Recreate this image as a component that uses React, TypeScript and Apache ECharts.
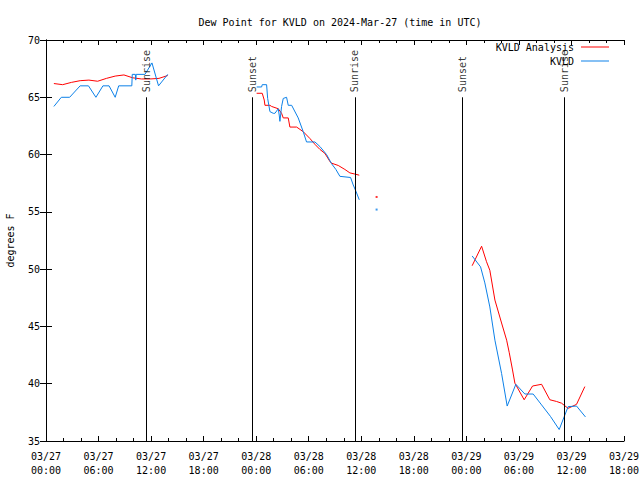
import { useEffect, useRef } from "react";
import * as echarts from "echarts";

// hours since 03/27 00:00 UTC
const xTickLabels = [
  "03/27\n00:00", "03/27\n06:00", "03/27\n12:00", "03/27\n18:00",
  "03/28\n00:00", "03/28\n06:00", "03/28\n12:00", "03/28\n18:00",
  "03/29\n00:00", "03/29\n06:00", "03/29\n12:00", "03/29\n18:00",
];

// KVLD Analysis (red); null = gap
const analysisTimes = [
  0.9, 1.9, 2.9, 3.9, 4.9, 5.9, 6.9, 7.9, 8.9, 9.9, 10.9, 11.9, 12.9, 13.9,
  18,
  24.05, 24.69, 24.92, 25.0, 25.57, 25.76, 26.52, 26.9, 27.09, 27.66, 27.85, 28.62,
  29.37, 30.14, 30.7, 31.28, 31.85, 32.42, 32.6, 33.37, 34.13, 34.7, 35.27, 35.77,
  42,
  48.66, 49.74, 50.3, 50.68, 51.26, 52.02, 52.6, 52.9, 53.27, 53.54, 54.6, 55.56,
  56.59, 57.53, 58.3, 58.87, 59.62, 60.58, 61.53,
];
const analysisValues = [
  66.2, 66.1, 66.3, 66.45, 66.5, 66.4, 66.65, 66.85, 66.95, 66.7, 66.6, 66.6, 66.65, 66.9,
  null,
  65.35, 65.35, 64.76, 64.3, 64.3, 64.2, 64.0, 63.6, 63.2, 63.2, 62.4, 62.4,
  62.0, 61.4, 60.9, 60.45, 60.1, 59.4, 59.25, 59.05, 58.7, 58.4, 58.3, 58.2,
  null,
  50.3, 52.0, 50.65, 49.9, 47.3, 45.3, 43.8, 42.7, 41.2, 40.05, 38.6, 39.8,
  39.95, 38.6, 38.45, 38.3, 37.85, 38.2, 39.75,
];

// KVLD observations (blue)
const obsTimes = [
  0.9, 1.75, 2.7, 3.9, 4.85, 5.7, 6.5, 7.2, 7.9, 8.3, 9.8, 9.85, 10.2, 10.25, 10.3,
  11.3, 12.1, 12.85, 13.9,
  18,
  24.05, 24.62, 24.69, 25.19, 25.31, 25.57, 25.95, 26.14, 26.52, 26.63, 26.71, 26.9,
  27.09, 27.47, 27.66, 28.05, 28.8, 29.37, 29.75, 30.71, 31.28, 32.04, 32.61, 33.1,
  33.56, 34.78, 35.08, 35.39, 35.77,
  42,
  48.66, 49.62, 50.11, 50.68, 51.26, 52.02, 52.66, 53.65, 54.68, 55.63, 56.59, 57.6,
  58.6, 59.62, 60.58, 61.6,
];
const obsValues = [
  64.2, 65.0, 65.0, 66.0, 66.0, 65.0, 66.0, 66.0, 65.0, 66.0, 66.0, 67.0, 67.0, 66.5, 67.0,
  67.0, 68.0, 66.0, 67.0,
  null,
  65.9, 65.9, 66.1, 66.1, 64.9, 63.75, 63.6, 63.6, 64.0, 63.45, 62.9, 64.2,
  64.9, 65.0, 64.3, 64.3, 63.2, 62.0, 61.1, 61.1, 60.7, 60.0, 59.2, 58.7,
  58.1, 58.0, 57.35, 56.8, 56.05,
  null,
  51.15, 50.2, 48.8, 46.7, 43.8, 40.9, 38.05, 39.95, 39.1, 39.1, 38.15, 37.15,
  36.0, 38.0, 38.05, 37.1,
];

// isolated single readings
const isoTime = 37.75;
const isoAnalysis = 56.3;
const isoObs = 55.2;

// sun events
const sunTimes = [11.42, 23.57, 35.27, 47.51, 59.16];
const sunNames = ["Sunrise", "Sunset", "Sunrise", "Sunset", "Sunrise"];

const RED = "#ff0000";
const BLUE = "#0c80e8";
const FONT = "DejaVu Sans Mono";

export default function App() {
  const ref = useRef<HTMLDivElement>(null);
  useEffect(() => {
    if (!ref.current) return;
    const chart = echarts.init(ref.current, undefined, { renderer: "svg" });
    const pairs = (t: number[], v: (number | null)[]) => t.map((x, i) => [x, v[i] === null ? "-" : v[i]]);
    const txt = { fontFamily: FONT, fontSize: 10, color: "#000" };
    const axisLine = { show: true, lineStyle: { color: "#000", width: 1 } };
    const xBase = {
      type: "value" as const,
      min: 0,
      max: 66,
      interval: 6,
      splitLine: { show: false },
      axisLine,
      axisTick: { show: true, inside: true, length: 5, lineStyle: { color: "#000" } },
      minorTick: { show: true, splitNumber: 3, length: 3, lineStyle: { color: "#000" } },
    };
    const yBase = {
      type: "value" as const,
      min: 35,
      max: 70,
      interval: 5,
      splitLine: { show: false },
      axisLine,
      axisTick: { show: true, inside: true, length: 6, lineStyle: { color: "#000" } },
    };
    const legendBase = {
      right: 31,
      padding: 0,
      align: "right",
      icon: "rect",
      itemWidth: 28,
      itemHeight: 1,
      itemGap: 7,
      textStyle: { ...txt, padding: [0, 2, 0, 0] },
    };
    chart.setOption({
      animation: false,
      backgroundColor: "#fff",
      title: {
        text: "Dew Point for KVLD on 2024-Mar-27 (time in UTC)",
        left: 335,
        textAlign: "center",
        top: 12,
        textStyle: { ...txt, fontWeight: "normal" },
      },
      legend: [
        { ...legendBase, data: ["KVLD Analysis"], top: 42 },
        { ...legendBase, data: ["KVLD"], top: 56 },
      ],
      grid: {
        left: 46,
        right: 16,
        top: 40,
        bottom: 39,
        containLabel: false,
        outerBoundsMode: "none",
      },
      xAxis: [
        {
          ...xBase,
          position: "bottom",
          axisLabel: {
            ...txt,
            margin: 8,
            lineHeight: 14,
            formatter: (v: number) => xTickLabels[Math.round(v / 6)] ?? "",
          },
        },
        { ...xBase, position: "top", axisLabel: { show: false } },
      ],
      yAxis: [
        {
          ...yBase,
          position: "left",
          name: "degrees F",
          nameLocation: "middle",
          nameGap: 31,
          nameTextStyle: txt,
          axisLabel: { ...txt, margin: 6 },
        },
        { ...yBase, position: "right", axisLabel: { show: false } },
      ],
      series: [
        {
          name: "KVLD Analysis",
          type: "line",
          data: pairs(analysisTimes, analysisValues),
          symbol: "none",
          connectNulls: false,
          color: RED,
          lineStyle: { color: RED, width: 1 },
          z: 3,
        },
        {
          name: "KVLD",
          type: "line",
          data: pairs(obsTimes, obsValues),
          symbol: "none",
          connectNulls: false,
          color: BLUE,
          lineStyle: { color: BLUE, width: 1 },
          z: 4,
        },
        {
          name: "isoA",
          type: "scatter",
          data: [[isoTime, isoAnalysis]],
          symbol: "rect",
          symbolSize: 2,
          itemStyle: { color: RED },
        },
        {
          name: "isoO",
          type: "scatter",
          data: [[isoTime, isoObs]],
          symbol: "rect",
          symbolSize: 2,
          itemStyle: { color: BLUE },
        },
        {
          name: "sun",
          type: "scatter",
          data: sunTimes.map((t, i) => ({ value: [t, 65.45], name: sunNames[i] })),
          symbolSize: 0,
          z: 5,
          label: {
            show: true,
            position: "inside",
            rotate: 90,
            align: "left",
            verticalAlign: "middle",
            formatter: (p: any) => p.name,
            ...txt,
          },
          markLine: {
            silent: true,
            symbol: ["none", "none"],
            label: { show: false },
            lineStyle: { color: "#000", width: 1, type: "solid" },
            data: sunTimes.map((t) => [{ coord: [t, 35] }, { coord: [t, 65] }]),
          },
        },
      ],
    });
    return () => chart.dispose();
  }, []);
  return (
    <div
      ref={ref}
      style={{ position: "fixed", left: 0, top: 0, width: 640, height: 480 }}
    />
  );
}
